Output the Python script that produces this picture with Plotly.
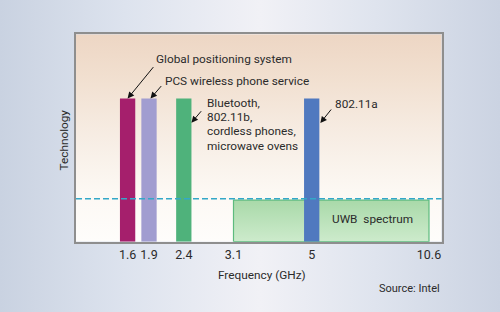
import numpy as np
import plotly.graph_objects as go

# ---------------- data ----------------
tech_names = ["Global positioning system", "PCS wireless phone service",
              "Bluetooth, 802.11b, cordless phones, microwave ovens", "802.11a"]
tech_freq = [1.6, 1.9, 2.4, 5.0]          # GHz
tech_level = [0.69, 0.69, 0.69, 0.69]     # relative power (schematic)
tech_colors = ["#a51f6c", "#a19dd0", "#4fb27b", "#5079bf"]

uwb_start = 3.1
uwb_end = 10.6
uwb_level = 0.20
limit_level = 0.207

tick_freq = [1.6, 1.9, 2.4, 3.1, 5.0, 10.6]
tick_text = ["1.6", "1.9", "2.4", "3.1", "5", "10.6"]

# ---------------- schematic (non-linear) frequency scale ----------------
SCALE_F = [0.0, 1.6, 1.9, 2.4, 3.1, 5.0, 10.6, 11.3]
SCALE_P = [0.0, 51.6, 73.0, 107.8, 157.5, 235.7, 353.0, 365.7]
X_MAX = 365.7


def sx(f):
    return float(np.interp(f, SCALE_F, SCALE_P))


BAR_W = 15.3
FONT = "Roboto, Liberation Sans, Arial, sans-serif"
FS = 11.8
TXT = "#2b2b2b"

W, H = 500, 312
L, R, T, B = 76.0, 441.7, 34.3, 241.7

fig = go.Figure()

# page background gradient (full-page hidden subplot)
fig.add_trace(go.Scatter(
    x=[0, 1, 1, 0, 0], y=[0, 0, 1, 1, 0], mode="lines", line=dict(width=0),
    fill="toself", xaxis="x", yaxis="y", hoverinfo="skip", showlegend=False,
    fillgradient=dict(type="horizontal", colorscale=[
        [0.0, "#c9d2e1"], [0.25, "#dde3ee"], [0.52, "#f1f1f6"],
        [0.75, "#dfe4ee"], [1.0, "#cbd3e2"]]),
))

# plot-area background gradient
fig.add_trace(go.Scatter(
    x=[0, X_MAX, X_MAX, 0, 0], y=[0, 0, 1, 1, 0], mode="lines", line=dict(width=0),
    fill="toself", xaxis="x2", yaxis="y2", hoverinfo="skip", showlegend=False,
    fillgradient=dict(type="vertical", colorscale=[
        [0.0, "#fefdfb"], [0.25, "#fcf8f3"], [0.55, "#f6ebe1"],
        [0.8, "#f1dfcf"], [1.0, "#edd6c4"]]),
))


def bar_rect(f, h, color, name):
    c = sx(f)
    return go.Scatter(
        x=[c - BAR_W / 2, c + BAR_W / 2, c + BAR_W / 2, c - BAR_W / 2, c - BAR_W / 2],
        y=[0, 0, h, h, 0], mode="lines", line=dict(width=0), fill="toself",
        fillcolor=color, xaxis="x2", yaxis="y2", name=name, showlegend=False,
        hoverinfo="name")


# narrowband technologies below 3.1 GHz
for f, h, c, n in zip(tech_freq[:3], tech_level[:3], tech_colors[:3], tech_names[:3]):
    fig.add_trace(bar_rect(f, h, c, n))

# UWB spectrum block
x0, x1 = sx(uwb_start), sx(uwb_end)
fig.add_trace(go.Scatter(
    x=[x0, x1, x1, x0, x0], y=[0, 0, uwb_level, uwb_level, 0], mode="lines",
    line=dict(width=1.2, color="#5dbb7e"), fill="toself", xaxis="x2", yaxis="y2",
    fillgradient=dict(type="vertical", colorscale=[[0, "#cdebcc"], [1, "#a9d9a9"]]),
    name="UWB spectrum", showlegend=False, hoverinfo="name"))

# 802.11a
fig.add_trace(bar_rect(tech_freq[3], tech_level[3], tech_colors[3], tech_names[3]))

# emission limit (dashed)
fig.add_trace(go.Scatter(
    x=[0, X_MAX], y=[limit_level, limit_level], mode="lines",
    line=dict(color="#33a8c8", width=1.5, dash="6px,3px"),
    xaxis="x2", yaxis="y2", showlegend=False, hoverinfo="skip"))


def yd(px):
    return (B - px) / (B - T)


def xd(px):
    return px - L


ann = []
# labels
ann.append(dict(text="Global positioning system", x=xd(154), y=yd(59), xanchor="left", yanchor="middle"))
ann.append(dict(text="PCS wireless phone service", x=xd(162.5), y=yd(81), xanchor="left", yanchor="middle"))
for i, line in enumerate(["Bluetooth,", "802.11b,", "cordless phones,", "microwave ovens"]):
    ann.append(dict(text=line, x=xd(204.5), y=yd(103 + 14.2 * i), xanchor="left", yanchor="middle"))
ann.append(dict(text="802.11a", x=xd(333), y=yd(104), xanchor="left", yanchor="middle"))
ann.append(dict(text="UWB\u00a0\u00a0spectrum", x=xd(372), y=yd(219.3), xanchor="center", yanchor="middle"))
for a in ann:
    a.update(xref="x2", yref="y2", showarrow=False, font=dict(family=FONT, size=FS, color=TXT))

# arrows
arrow_specs = [
    (sx(tech_freq[0]), tech_level[0], 27, -33),
    (sx(tech_freq[1]) + 1.5, tech_level[1], 12, -14),
    (sx(tech_freq[2]) + BAR_W / 2, yd(122.7), 11, -13),
    (sx(tech_freq[3]) + BAR_W / 2 + 1, yd(123), 12, -15),
]
for hx, hy, ax, ay in arrow_specs:
    ann.append(dict(text="", x=hx, y=hy, xref="x2", yref="y2", showarrow=True,
                    ax=ax, ay=ay, arrowhead=2, arrowsize=1.3, arrowwidth=1,
                    arrowcolor="#111111", standoff=0))

# axis titles / source
ann.append(dict(text="Frequency (GHz)", x=262 / W, y=1 - 275 / H, xref="paper", yref="paper",
                xanchor="center", yanchor="middle", showarrow=False,
                font=dict(family=FONT, size=FS, color=TXT)))
ann.append(dict(text="Technology", x=63.5 / W, y=1 - 140 / H, xref="paper", yref="paper",
                xanchor="center", yanchor="middle", showarrow=False, textangle=-90,
                font=dict(family=FONT, size=11.8, color=TXT)))
ann.append(dict(text="Source: Intel", x=409.5 / W, y=1 - 288.3 / H, xref="paper", yref="paper",
                xanchor="center", yanchor="middle", showarrow=False,
                font=dict(family=FONT, size=11, color=TXT)))

fig.update_layout(
    width=W, height=H, margin=dict(l=0, r=0, t=0, b=0),
    paper_bgcolor="#dfe4ee", plot_bgcolor="rgba(0,0,0,0)",
    showlegend=False,
    xaxis=dict(domain=[0, 1], range=[0, 1], visible=False, fixedrange=True),
    yaxis=dict(domain=[0, 1], range=[0, 1], visible=False, fixedrange=True),
    xaxis2=dict(domain=[L / W, R / W], range=[0, X_MAX], anchor="y2",
                tickvals=[sx(f) for f in tick_freq], ticktext=tick_text,
                tickangle=0, ticks="", showgrid=False, zeroline=False,
                showline=True, mirror=True, linecolor="#8e8e8e", linewidth=2,
                tickfont=dict(family=FONT, size=12.5, color=TXT), ticklabelstandoff=0),
    yaxis2=dict(domain=[1 - B / H, 1 - T / H], range=[0, 1], anchor="x2",
                showticklabels=False, ticks="", showgrid=False, zeroline=False,
                showline=True, mirror=True, linecolor="#8e8e8e", linewidth=2),
    annotations=ann,
)

fig.write_html("out.html")
